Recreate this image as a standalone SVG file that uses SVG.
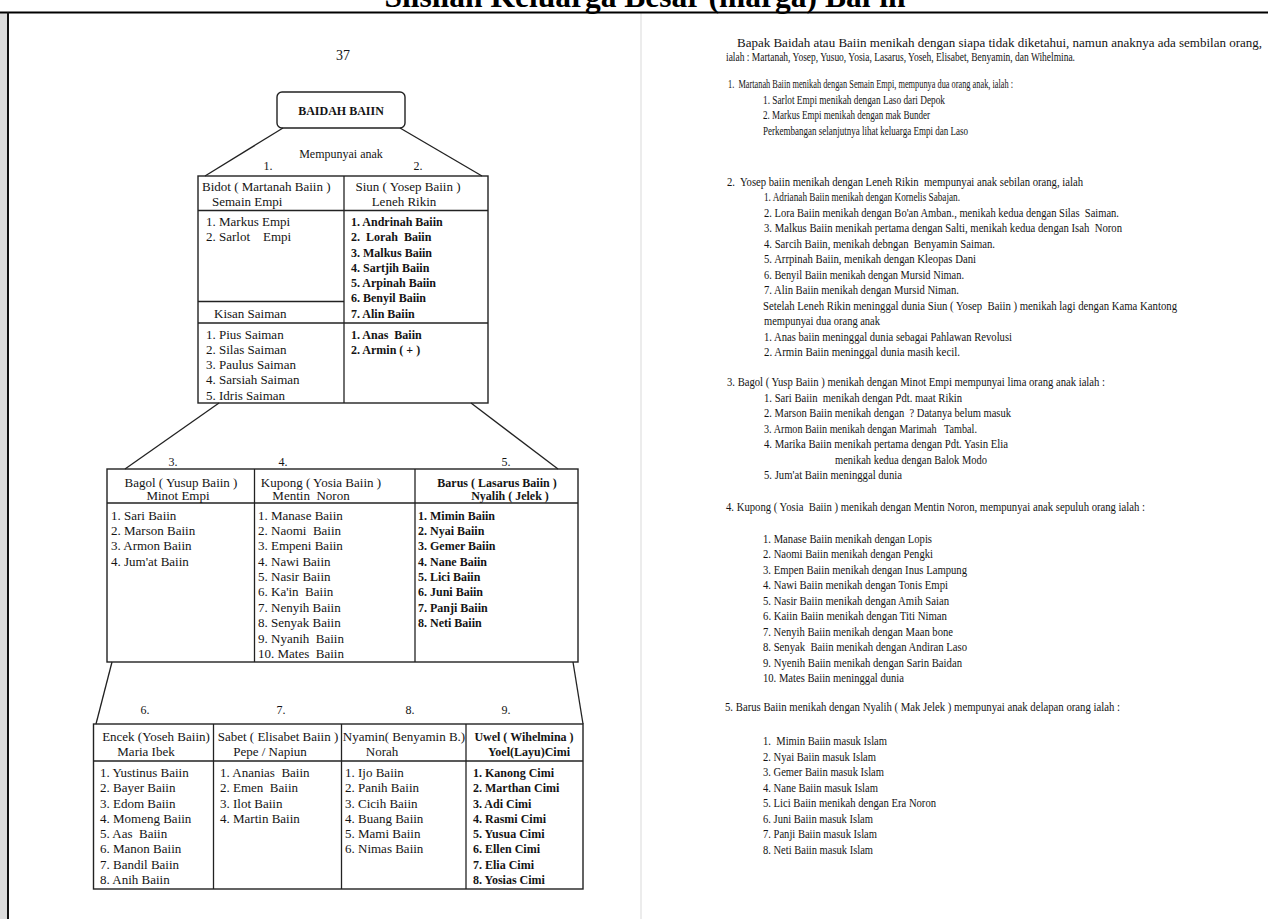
<svg xmlns="http://www.w3.org/2000/svg" width="1268" height="919" viewBox="0 0 1268 919">
<style>
text{font-family:"Liberation Serif","Times New Roman",serif;fill:#141414}
.t{font-size:13px}
.tb{font-size:12px;font-weight:bold}
.c{text-anchor:middle}
.n{font-size:12px}
.r{font-size:12px}
.box{fill:none;stroke:#222;stroke-width:1.4}
.ln{stroke:#222;stroke-width:1.3;fill:none}
.title{font-size:31.5px;font-weight:bold;fill:#000}
</style>
<rect x="0" y="0" width="1268" height="919" fill="#fff"/>
<rect x="0" y="13" width="7" height="906" fill="#dcdcdc"/>
<line x1="641" y1="13" x2="641" y2="919" stroke="#ececec" stroke-width="2"/>
<text class="title c" x="645" y="7">Silsilah Keluarga Besar (marga) Bai'in</text>
<line x1="0" y1="12.5" x2="1268" y2="12.5" stroke="#000" stroke-width="2"/>
<line x1="8" y1="12" x2="8" y2="919" stroke="#111" stroke-width="2"/>

<text class="c" x="343" y="60" style="font-size:14px">37</text>

<g id="connectors">
<line class="ln" x1="283" y1="128" x2="205" y2="176"/>
<line class="ln" x1="400" y1="128" x2="482" y2="176"/>
<line class="ln" x1="219" y1="403" x2="125" y2="469"/>
<line class="ln" x1="471" y1="403" x2="558" y2="469"/>
<line class="ln" x1="112" y1="662" x2="96" y2="724"/>
<line class="ln" x1="573" y1="662" x2="583" y2="724"/>
</g>

<g id="node-baidah-baiin">
<rect class="box" x="277" y="92" width="128" height="36" rx="5"/>
<text class="tb c" x="341" y="115">BAIDAH  BAIIN</text>
</g>

<g id="label-mempunyai">
<text class="n c" x="341" y="158">Mempunyai anak</text>
<text class="n c" x="268" y="170">1.</text>
<text class="n c" x="418" y="170">2.</text>
</g>

<g id="node-gen1">
<rect class="box" x="198" y="176" width="290" height="227"/>
<line class="ln" x1="344" y1="176" x2="344" y2="403"/>
<line class="ln" x1="198" y1="210.5" x2="488" y2="210.5"/>
<line class="ln" x1="198" y1="301.5" x2="344" y2="301.5"/>
<line class="ln" x1="198" y1="323" x2="488" y2="323"/>
<g id="node-1-martanah">
<text class="t" x="202" y="191">Bidot  ( Martanah Baiin )</text>
<text class="t" x="212" y="206">Semain  Empi</text>
<text class="t" x="206" y="226">1. Markus Empi</text>
<text class="t" x="206" y="241" xml:space="preserve">2. Sarlot    Empi</text>
<text class="t" x="214" y="318">Kisan  Saiman</text>
<text class="t" x="206" y="338.5">1. Pius Saiman</text>
<text class="t" x="206" y="353.8">2. Silas Saiman</text>
<text class="t" x="206" y="369">3. Paulus Saiman</text>
<text class="t" x="206" y="384.3">4. Sarsiah Saiman</text>
<text class="t" x="206" y="399.5">5. Idris  Saiman</text>
</g>
<g id="node-2-yosep">
<text class="t c" x="408" y="191">Siun ( Yosep Baiin )</text>
<text class="t c" x="404" y="206">Leneh Rikin</text>
<text class="tb" x="351" y="226">1. Andrinah Baiin</text>
<text class="tb" x="351" y="241.3" xml:space="preserve">2.  Lorah  Baiin</text>
<text class="tb" x="351" y="256.5">3. Malkus Baiin</text>
<text class="tb" x="351" y="271.8">4. Sartjih Baiin</text>
<text class="tb" x="351" y="287">5. Arpinah Baiin</text>
<text class="tb" x="351" y="302.3">6. Benyil Baiin</text>
<text class="tb" x="351" y="317.5">7. Alin Baiin</text>
<text class="tb" x="351" y="338.5" xml:space="preserve">1. Anas  Baiin</text>
<text class="tb" x="351" y="353.8">2. Armin ( + )</text>
</g>
</g>

<g id="node-gen2">
<text class="n c" x="173" y="466">3.</text>
<text class="n c" x="283" y="466">4.</text>
<text class="n c" x="506" y="466">5.</text>
<rect class="box" x="107" y="469" width="471" height="193"/>
<line class="ln" x1="254.5" y1="469" x2="254.5" y2="662"/>
<line class="ln" x1="415" y1="469" x2="415" y2="662"/>
<line class="ln" x1="107" y1="503" x2="578" y2="503"/>
<g id="node-3-yusup">
<text class="t c" x="181" y="487">Bagol ( Yusup Baiin )</text>
<text class="t c" x="178" y="499.5">Minot Empi</text>
<text class="t" x="111" y="519.5">1. Sari Baiin</text>
<text class="t" x="111" y="534.9">2. Marson Baiin</text>
<text class="t" x="111" y="550.2">3. Armon Baiin</text>
<text class="t" x="111" y="565.6">4. Jum'at Baiin</text>
</g>
<g id="node-4-yosia">
<text class="t c" x="321" y="487">Kupong ( Yosia Baiin )</text>
<text class="t c" x="311" y="499.5" xml:space="preserve">Mentin  Noron</text>
<text class="t" x="258" y="519.5">1. Manase Baiin</text>
<text class="t" x="258" y="534.9" xml:space="preserve">2. Naomi  Baiin</text>
<text class="t" x="258" y="550.2">3. Empeni Baiin</text>
<text class="t" x="258" y="565.6">4. Nawi Baiin</text>
<text class="t" x="258" y="581">5. Nasir Baiin</text>
<text class="t" x="258" y="596.4" xml:space="preserve">6. Ka'in  Baiin</text>
<text class="t" x="258" y="611.7">7. Nenyih Baiin</text>
<text class="t" x="258" y="627.1">8. Senyak Baiin</text>
<text class="t" x="258" y="642.5" xml:space="preserve">9. Nyanih  Baiin</text>
<text class="t" x="258" y="657.8" xml:space="preserve">10. Mates  Baiin</text>
</g>
<g id="node-5-lasarus">
<text class="tb c" x="497" y="487">Barus ( Lasarus Baiin )</text>
<text class="tb c" x="510" y="499.5">Nyalih ( Jelek )</text>
<text class="tb" x="418" y="519.5">1. Mimin Baiin</text>
<text class="tb" x="418" y="534.9">2. Nyai Baiin</text>
<text class="tb" x="418" y="550.2">3. Gemer Baiin</text>
<text class="tb" x="418" y="565.6">4. Nane Baiin</text>
<text class="tb" x="418" y="581">5. Lici Baiin</text>
<text class="tb" x="418" y="596.4">6. Juni Baiin</text>
<text class="tb" x="418" y="611.7">7. Panji Baiin</text>
<text class="tb" x="418" y="627.1">8. Neti Baiin</text>
</g>
</g>

<g id="node-gen3">
<text class="n c" x="145" y="714">6.</text>
<text class="n c" x="281" y="714">7.</text>
<text class="n c" x="410" y="714">8.</text>
<text class="n c" x="506" y="714">9.</text>
<rect class="box" x="93.5" y="724" width="489.5" height="165"/>
<line class="ln" x1="213.5" y1="724" x2="213.5" y2="889"/>
<line class="ln" x1="341.5" y1="724" x2="341.5" y2="889"/>
<line class="ln" x1="466" y1="724" x2="466" y2="889"/>
<line class="ln" x1="93.5" y1="761" x2="583" y2="761"/>
<g id="node-6-yoseh">
<text class="t c" x="156" y="741">Encek (Yoseh Baiin)</text>
<text class="t c" x="146" y="756">Maria Ibek</text>
<text class="t" x="100" y="777">1. Yustinus Baiin</text>
<text class="t" x="100" y="792.3">2. Bayer Baiin</text>
<text class="t" x="100" y="807.5">3. Edom Baiin</text>
<text class="t" x="100" y="822.8">4. Momeng Baiin</text>
<text class="t" x="100" y="838" xml:space="preserve">5. Aas  Baiin</text>
<text class="t" x="100" y="853.3">6. Manon Baiin</text>
<text class="t" x="100" y="868.5">7. Bandil Baiin</text>
<text class="t" x="100" y="883.8">8. Anih Baiin</text>
</g>
<g id="node-7-elisabet">
<text class="t c" x="278" y="741">Sabet ( Elisabet Baiin )</text>
<text class="t c" x="270" y="756">Pepe / Napiun</text>
<text class="t" x="220" y="777" xml:space="preserve">1. Ananias  Baiin</text>
<text class="t" x="220" y="792.3" xml:space="preserve">2. Emen  Baiin</text>
<text class="t" x="220" y="807.5">3. Ilot Baiin</text>
<text class="t" x="220" y="822.8">4. Martin Baiin</text>
</g>
<g id="node-8-benyamin">
<text class="t c" x="404" y="741">Nyamin( Benyamin B.)</text>
<text class="t c" x="382" y="756">Norah</text>
<text class="t" x="345" y="777">1. Ijo Baiin</text>
<text class="t" x="345" y="792.3">2. Panih Baiin</text>
<text class="t" x="345" y="807.5">3. Cicih Baiin</text>
<text class="t" x="345" y="822.8">4. Buang Baiin</text>
<text class="t" x="345" y="838">5. Mami Baiin</text>
<text class="t" x="345" y="853.3">6. Nimas Baiin</text>
</g>
<g id="node-9-wihelmina">
<text class="tb c" x="524" y="741">Uwel ( Wihelmina )</text>
<text class="tb c" x="529" y="756">Yoel(Layu)Cimi</text>
<text class="tb" x="473" y="777">1. Kanong Cimi</text>
<text class="tb" x="473" y="792.3">2. Marthan Cimi</text>
<text class="tb" x="473" y="807.5">3. Adi Cimi</text>
<text class="tb" x="473" y="822.8">4. Rasmi Cimi</text>
<text class="tb" x="473" y="838">5. Yusua Cimi</text>
<text class="tb" x="473" y="853.3">6. Ellen Cimi</text>
<text class="tb" x="473" y="868.5">7. Elia Cimi</text>
<text class="tb" x="473" y="883.8">8. Yosias Cimi</text>
</g>
</g>

<g id="narrative">
<text class="r" x="737" y="47" textLength="525" lengthAdjust="spacingAndGlyphs">Bapak Baidah atau Baiin menikah dengan siapa tidak diketahui, namun anaknya ada sembilan orang,</text>
<text class="r" x="726" y="61" textLength="349" lengthAdjust="spacingAndGlyphs">ialah : Martanah, Yosep, Yusuo, Yosia, Lasarus, Yoseh, Elisabet, Benyamin, dan Wihelmina.</text>
<text class="r" x="728" y="88" textLength="285" lengthAdjust="spacingAndGlyphs" xml:space="preserve">1.  Martanah Baiin menikah dengan Semain Empi, mempunya dua orang anak, ialah :</text>
<text class="r" x="763" y="104" textLength="182" lengthAdjust="spacingAndGlyphs">1. Sarlot Empi menikah dengan Laso dari Depok</text>
<text class="r" x="763" y="119" textLength="167" lengthAdjust="spacingAndGlyphs">2. Markus Empi menikah dengan mak Bunder</text>
<text class="r" x="763" y="135" textLength="205" lengthAdjust="spacingAndGlyphs">Perkembangan selanjutnya lihat keluarga Empi dan Laso</text>

<text class="r" x="727" y="186" textLength="356" lengthAdjust="spacingAndGlyphs" xml:space="preserve">2.  Yosep baiin menikah dengan Leneh Rikin  mempunyai anak sebilan orang, ialah</text>
<text class="r" x="764" y="201" textLength="196" lengthAdjust="spacingAndGlyphs">1. Adrianah Baiin menikah dengan Kornelis Sabajan.</text>
<text class="r" x="764" y="216.5" textLength="355" lengthAdjust="spacingAndGlyphs" xml:space="preserve">2. Lora Baiin menikah dengan Bo'an Amban., menikah kedua dengan Silas  Saiman.</text>
<text class="r" x="764" y="232" textLength="358" lengthAdjust="spacingAndGlyphs" xml:space="preserve">3. Malkus Baiin menikah pertama dengan Salti, menikah kedua dengan Isah  Noron</text>
<text class="r" x="764" y="247.5" textLength="231" lengthAdjust="spacingAndGlyphs" xml:space="preserve">4. Sarcih Baiin, menikah debngan  Benyamin Saiman.</text>
<text class="r" x="764" y="263" textLength="212" lengthAdjust="spacingAndGlyphs">5. Arrpinah Baiin, menikah dengan Kleopas Dani</text>
<text class="r" x="764" y="278.5" textLength="200" lengthAdjust="spacingAndGlyphs">6. Benyil Baiin menikah dengan Mursid Niman.</text>
<text class="r" x="764" y="294" textLength="195" lengthAdjust="spacingAndGlyphs">7. Alin Baiin menikah dengan Mursid Niman.</text>
<text class="r" x="763" y="309.5" textLength="414" lengthAdjust="spacingAndGlyphs" xml:space="preserve">Setelah Leneh Rikin meninggal dunia Siun ( Yosep  Baiin ) menikah lagi dengan Kama Kantong</text>
<text class="r" x="764" y="325" textLength="116" lengthAdjust="spacingAndGlyphs">mempunyai dua orang anak</text>
<text class="r" x="764" y="340.5" textLength="248" lengthAdjust="spacingAndGlyphs">1. Anas baiin meninggal dunia sebagai Pahlawan Revolusi</text>
<text class="r" x="764" y="356" textLength="196" lengthAdjust="spacingAndGlyphs">2. Armin Baiin meninggal dunia masih kecil.</text>

<text class="r" x="727" y="386" textLength="378" lengthAdjust="spacingAndGlyphs">3. Bagol ( Yusp Baiin ) menikah dengan Minot Empi mempunyai lima orang anak ialah :</text>
<text class="r" x="764" y="401.5" textLength="198" lengthAdjust="spacingAndGlyphs" xml:space="preserve">1. Sari Baiin  menikah dengan Pdt. maat Rikin</text>
<text class="r" x="764" y="417" textLength="247" lengthAdjust="spacingAndGlyphs" xml:space="preserve">2. Marson Baiin menikah dengan  ? Datanya belum masuk</text>
<text class="r" x="764" y="432.5" textLength="213" lengthAdjust="spacingAndGlyphs" xml:space="preserve">3. Armon Baiin menikah dengan Marimah   Tambal.</text>
<text class="r" x="764" y="448" textLength="244" lengthAdjust="spacingAndGlyphs">4. Marika Baiin menikah pertama dengan Pdt. Yasin Elia</text>
<text class="r" x="835" y="463.5" textLength="152" lengthAdjust="spacingAndGlyphs">menikah kedua dengan Balok Modo</text>
<text class="r" x="764" y="479" textLength="138" lengthAdjust="spacingAndGlyphs">5. Jum'at Baiin meninggal dunia</text>

<text class="r" x="726" y="510.5" textLength="419" lengthAdjust="spacingAndGlyphs" xml:space="preserve">4. Kupong ( Yosia  Baiin ) menikah dengan Mentin Noron, mempunyai anak sepuluh orang ialah :</text>
<text class="r" x="763" y="542.5" textLength="169" lengthAdjust="spacingAndGlyphs">1. Manase Baiin menikah dengan Lopis</text>
<text class="r" x="763" y="558" textLength="170" lengthAdjust="spacingAndGlyphs">2. Naomi Baiin menikah dengan Pengki</text>
<text class="r" x="763" y="573.5" textLength="204" lengthAdjust="spacingAndGlyphs">3. Empen Baiin menikah dengan Inus Lampung</text>
<text class="r" x="763" y="589" textLength="185" lengthAdjust="spacingAndGlyphs">4. Nawi Baiin menikah dengan Tonis Empi</text>
<text class="r" x="763" y="604.5" textLength="186" lengthAdjust="spacingAndGlyphs">5. Nasir Baiin menikah dengan Amih Saian</text>
<text class="r" x="763" y="620" textLength="184" lengthAdjust="spacingAndGlyphs">6. Kaiin Baiin menikah dengan Titi Niman</text>
<text class="r" x="763" y="635.5" textLength="190" lengthAdjust="spacingAndGlyphs">7. Nenyih Baiin menikah dengan Maan bone</text>
<text class="r" x="763" y="651" textLength="204" lengthAdjust="spacingAndGlyphs" xml:space="preserve">8. Senyak  Baiin menikah dengan Andiran Laso</text>
<text class="r" x="763" y="666.5" textLength="199" lengthAdjust="spacingAndGlyphs">9. Nyenih Baiin menikah dengan Sarin Baidan</text>
<text class="r" x="763" y="682" textLength="141" lengthAdjust="spacingAndGlyphs">10. Mates Baiin meninggal dunia</text>

<text class="r" x="725" y="711" textLength="395" lengthAdjust="spacingAndGlyphs">5.  Barus Baiin menikah dengan Nyalih ( Mak Jelek ) mempunyai anak delapan orang ialah :</text>
<text class="r" x="763" y="745" textLength="124" lengthAdjust="spacingAndGlyphs" xml:space="preserve">1.  Mimin Baiin masuk Islam</text>
<text class="r" x="763" y="760.5" textLength="113" lengthAdjust="spacingAndGlyphs">2. Nyai Baiin masuk Islam</text>
<text class="r" x="763" y="776" textLength="121" lengthAdjust="spacingAndGlyphs">3. Gemer Baiin masuk Islam</text>
<text class="r" x="763" y="791.5" textLength="115" lengthAdjust="spacingAndGlyphs">4. Nane Baiin masuk Islam</text>
<text class="r" x="763" y="807" textLength="173" lengthAdjust="spacingAndGlyphs">5. Lici Baiin menikah dengan Era Noron</text>
<text class="r" x="763" y="822.5" textLength="110" lengthAdjust="spacingAndGlyphs">6. Juni Baiin masuk Islam</text>
<text class="r" x="763" y="838" textLength="114" lengthAdjust="spacingAndGlyphs">7. Panji Baiin masuk Islam</text>
<text class="r" x="763" y="853.5" textLength="110" lengthAdjust="spacingAndGlyphs">8. Neti Baiin masuk Islam</text>
</g>
</svg>
